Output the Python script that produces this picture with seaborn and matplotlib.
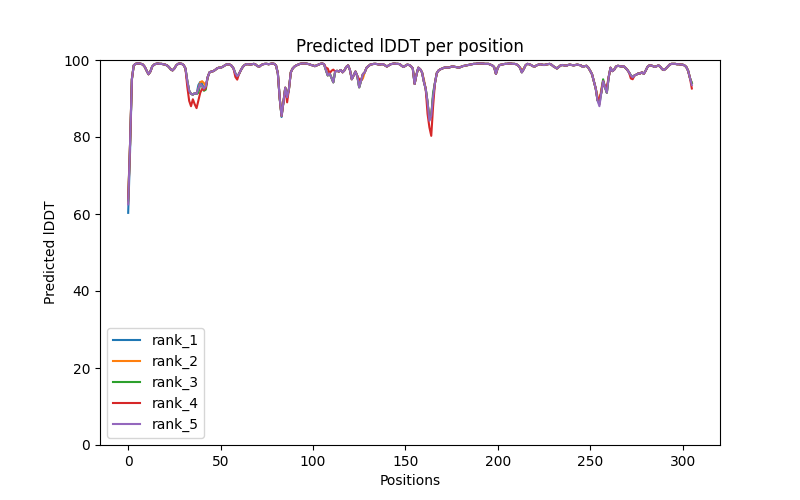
import numpy as np
import pandas as pd
import matplotlib
matplotlib.use("Agg")
import matplotlib.pyplot as plt
import seaborn as sns

# per-residue pLDDT (shared profile of the 5 models)
plddt_consensus = [
    61.0, 78.0, 95.0, 98.6, 99.0, 99.1, 99.1, 99.0, 98.8, 98.2,
    97.2, 96.3, 97.0, 98.3, 98.8, 99.0, 99.1, 99.0, 99.0, 98.9,
    98.8, 98.6, 98.2, 97.6, 97.3, 97.8, 98.6, 99.0, 99.1, 99.0,
    98.7, 97.8, 94.5, 92.0, 91.2, 91.0, 91.4, 91.2, 92.5, 93.8,
    93.2, 92.6, 93.2, 95.5, 96.8, 97.0, 97.1, 97.4, 97.8, 98.0,
    98.0, 98.2, 98.5, 98.8, 98.9, 98.8, 98.5, 97.8, 96.5, 95.8,
    96.4, 97.4, 98.2, 98.7, 98.9, 98.9, 98.8, 98.9, 99.0, 98.8,
    98.4, 98.3, 98.7, 98.9, 99.0, 99.0, 98.9, 99.0, 99.1, 99.0,
    98.6, 96.5, 90.0, 85.5, 89.0, 92.8, 90.3, 92.5, 96.8, 97.8,
    98.3, 98.6, 98.8, 99.0, 99.1, 99.1, 99.1, 99.0, 98.9, 98.7,
    98.6, 98.4, 98.6, 98.8, 99.0, 99.1, 98.9, 97.4, 96.0, 96.5,
    95.4, 94.2, 97.0, 97.2, 97.0, 97.4, 96.8, 97.3, 98.2, 98.6,
    97.4, 95.0, 96.0, 97.0, 95.8, 92.9, 94.6, 96.3, 96.8, 98.0,
    98.4, 98.8, 98.9, 99.0, 99.0, 98.9, 98.8, 98.9, 98.9, 98.6,
    98.3, 98.6, 98.9, 99.0, 99.1, 99.0, 99.0, 98.9, 98.5, 98.2,
    98.5, 98.8, 98.7, 98.4, 97.8, 93.8, 96.2, 98.0, 97.6, 96.8,
    94.4, 92.5, 89.0, 84.5, 85.5, 90.5, 94.0, 96.6, 97.3, 97.6,
    97.8, 98.0, 98.1, 98.0, 98.1, 98.3, 98.3, 98.2, 98.1, 98.0,
    98.2, 98.4, 98.5, 98.6, 98.7, 98.8, 98.9, 99.0, 99.0, 99.1,
    99.1, 99.1, 99.1, 99.0, 99.0, 99.0, 98.8, 98.6, 98.2, 96.4,
    98.0, 98.7, 98.8, 98.9, 99.0, 99.0, 99.1, 99.1, 99.0, 99.0,
    98.9, 98.6, 98.0, 96.8, 97.6, 98.6, 99.0, 98.9, 98.7, 98.4,
    98.3, 98.6, 98.8, 98.9, 98.8, 98.7, 98.8, 98.9, 99.0, 98.8,
    98.4, 98.1, 97.8, 98.2, 98.6, 98.7, 98.6, 98.5, 98.7, 98.8,
    98.7, 98.6, 98.7, 98.8, 98.7, 98.6, 98.2, 98.4, 98.5, 98.0,
    97.2, 96.3, 94.5, 92.6, 89.5, 88.5, 91.5, 94.5, 93.0, 91.5,
    95.5, 98.0, 97.1, 97.5, 98.3, 98.5, 98.4, 98.3, 98.4, 98.0,
    97.5, 96.8, 96.0, 95.5, 96.0, 96.2, 96.5, 96.5, 96.8, 96.4,
    97.2, 98.2, 98.6, 98.6, 98.4, 98.2, 98.4, 98.6, 98.2, 97.6,
    97.4, 97.8, 98.3, 98.8, 99.0, 99.0, 99.0, 98.9, 98.9, 98.8,
    98.8, 98.6, 98.2, 97.2, 95.3, 93.5,
]

# where the individual models visibly differ from the shared profile
rank_1_diff = {0: 60.3, 1: 76.0, 38: 93.5, 39: 94.3, 40: 93.8, 83: 85.2, 305: 94.0}
rank_2_diff = {0: 63.0, 39: 94.2, 40: 94.5, 41: 94.0, 127: 95.2, 160: 95.0,
               213: 97.6, 254: 90.5, 256: 92.5, 305: 94.0}
rank_3_diff = {0: 63.5, 38: 91.5, 41: 92.0, 42: 92.3, 255: 89.5, 257: 95.0,
               165: 91.5, 305: 94.0}
rank_4_diff = {0: 64.0, 32: 93.0, 33: 89.4, 34: 88.0, 35: 89.8, 36: 88.5,
               37: 87.5, 38: 89.5, 39: 91.5, 40: 92.5, 41: 92.2, 42: 92.8,
               58: 95.6, 59: 94.9, 86: 89.0, 107: 98.0, 108: 97.8, 110: 97.2,
               111: 97.5, 125: 95.0, 162: 86.0, 163: 82.5, 164: 80.3,
               165: 88.0, 255: 90.2, 259: 93.0, 272: 95.2, 273: 95.0, 305: 92.6}
rank_5_diff = {0: 62.5, 163: 84.2, 255: 88.0}

rank_names = ["rank_1", "rank_2", "rank_3", "rank_4", "rank_5"]
rank_diffs = [rank_1_diff, rank_2_diff, rank_3_diff, rank_4_diff, rank_5_diff]

positions = np.arange(len(plddt_consensus))

fig, ax = plt.subplots(figsize=(8, 5), dpi=100)
for name, diff in zip(rank_names, rank_diffs):
    vals = [diff.get(i, v) for i, v in enumerate(plddt_consensus)]
    sns.lineplot(x=positions, y=vals, label=name, ax=ax)

ax.set_ylim(0, 100)
ax.set_title("Predicted lDDT per position")
ax.set_xlabel("Positions")
ax.set_ylabel("Predicted lDDT")
ax.legend(loc="lower left")
plt.savefig("out.png", dpi=100)
